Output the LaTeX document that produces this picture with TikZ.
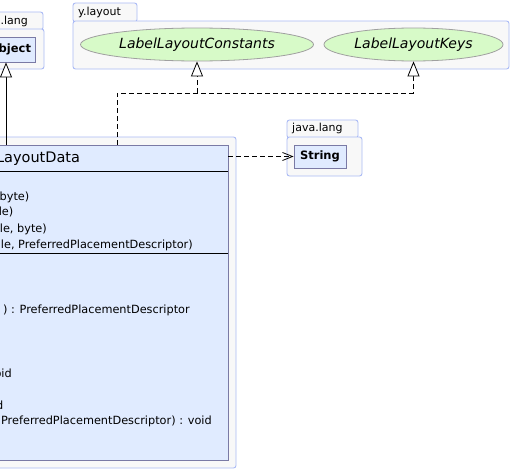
\documentclass[tikz,border=0pt]{standalone}
\usepackage{fontspec}
\setmainfont{DejaVu Sans}
\usetikzlibrary{arrows.meta,shapes.geometric,calc}
\definecolor{pkgborder}{RGB}{170,186,245}
\definecolor{pkgfill}{RGB}{248,248,248}
\definecolor{clsfill}{RGB}{224,235,255}
\definecolor{clsborder}{RGB}{122,122,165}
\definecolor{ifill}{RGB}{215,250,200}
\definecolor{iborder}{RGB}{160,160,160}
\begin{document}
\begin{tikzpicture}[x=1pt,y=-1pt,
  pkg/.style={draw=pkgborder,fill=pkgfill,line width=0.9pt,rounded corners=2.5pt},
  pkglabel/.style={inner sep=0pt,font=\fontsize{11}{12}\selectfont},
  clsbox/.style={draw=clsborder,fill=clsfill,line width=0.9pt,inner sep=0pt},
  iface/.style={ellipse,draw=iborder,fill=ifill,line width=0.8pt,inner sep=0pt,font=\fontsize{14}{16}\selectfont\itshape},
  member/.style={anchor=east,inner sep=0pt,font=\fontsize{11.3}{13}\selectfont},
  sepline/.style={draw=black,line width=0.8pt},
  inh/.style={draw,line width=0.8pt,-{Triangle[length=15pt,width=12pt,fill=white]}},
  real/.style={draw,line width=0.8pt,dash pattern=on 5pt off 3pt,-{Triangle[length=15pt,width=12pt,fill=white]}},
  dep/.style={draw,line width=0.8pt,dash pattern=on 5pt off 3pt,-{Straight Barb[length=10pt,width=8pt]}}
  ]
\useasboundingbox (0,0) rectangle (514,471);
\clip (0,0) rectangle (514,471);
\fill[white] (0,0) rectangle (514,471);

% java.lang package (top left)
\draw[pkg] (-60,12) rectangle (43,30);
\draw[pkg] (-60,29) rectangle (44,69);
\node[pkglabel,anchor=east] (jl1) at (28,21) {java.lang};
\node[clsbox,minimum width=50,minimum height=25,font=\fontsize{11.5}{13}\selectfont\bfseries] (obj) at (10,49.5) {Object};

% y.layout package
\draw[pkg] (73,3) rectangle (137,22);
\draw[pkg] (73,21) rectangle (509,69);
\node[pkglabel,anchor=west] (yl) at (78,12) {y.layout};
\node[iface,minimum width=233,minimum height=33] (llc) at (197,44.5) {LabelLayoutConstants};
\node[iface,minimum width=179,minimum height=33] (llk) at (413.5,44.5) {LabelLayoutKeys};

% java.lang package (String)
\draw[pkg] (287,120) rectangle (358,138);
\draw[pkg] (287,137) rectangle (362,176);
\node[pkglabel,anchor=west] (jl2) at (292,128) {java.lang};
\node[clsbox,minimum width=52,minimum height=23,font=\fontsize{11.5}{13}\selectfont\bfseries] (str) at (320,156.5) {String};

% class package
\draw[pkg] (-60,137) rectangle (236,468);
\node[clsbox,minimum width=419,minimum height=315] (cls) at (18.5,302.5) {};
\node[inner sep=0pt,font=\fontsize{14.5}{16}\selectfont] (clsname) at (18.5,158.5) {LabelLayoutData};
\coordinate (h1) at (0,171);
\coordinate (h2) at (0,253);
\draw[sepline] (cls.west |- h1) -- (cls.east |- h1);
\draw[sepline] (cls.west |- h2) -- (cls.east |- h2);

\node[member] (a1) at (29.5,197) {byte)};
\node[member] (a2) at (13.5,212) {le)};
\node[member] (a3) at (47,229) {le, byte)};
\node[member] (a4) at (193,245.5) {le, PreferredPlacementDescriptor)};
\node[member] (m1) at (190,310) {) : PreferredPlacementDescriptor};
\node[member] (m2) at (12,373) {oid};
\node[member] (m3) at (3.5,405) {d};
\node[member] (m4) at (212,421) {(PreferredPlacementDescriptor) : void};

% connectors
\coordinate (inhx) at (6,0);
\draw[inh] (cls.north -| inhx) -- (obj.south -| inhx);
\coordinate (j) at (117,93);
\draw[real] (cls.north -| j) -- (j) -- (j -| llk.south) -- (llk.south);
\draw[real] (j -| llc.south) -- (llc.south);
\draw[dep] (cls.east |- str) -- (str.west);
\end{tikzpicture}
\end{document}
